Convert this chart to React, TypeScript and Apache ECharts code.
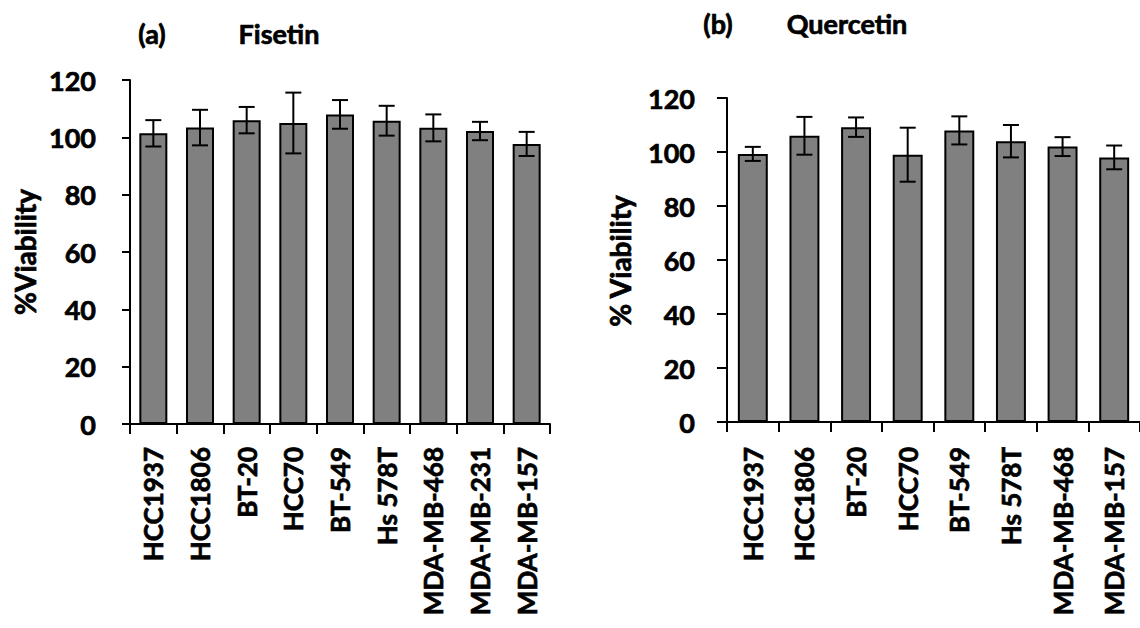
import React, { useEffect, useRef } from "react";
import * as echarts from "echarts";

const fisetinCells = ["HCC1937", "HCC1806", "BT-20", "HCC70", "BT-549", "Hs 578T", "MDA-MB-468", "MDA-MB-231", "MDA-MB-157"];
const fisetinMean = [101.4, 103.4, 106, 105, 108, 105.8, 103.3, 102.2, 97.7];
const fisetinErr = [4.6, 6.2, 4.6, 10.6, 5, 5.2, 4.7, 3.2, 4.2];

const quercetinCells = ["HCC1937", "HCC1806", "BT-20", "HCC70", "BT-549", "Hs 578T", "MDA-MB-468", "MDA-MB-157"];
const quercetinMean = [99.3, 106, 109.2, 99, 108, 104, 102, 98];
const quercetinErr = [2.6, 7, 3.6, 10, 5.2, 6, 3.5, 4.4];

const yTicks = { min: 0, max: 120, interval: 20 };

const FONT = "Lato";
const txt = {
  fontFamily: FONT, fontWeight: "bold" as const, fontSize: 26, color: "#000",
  textBorderColor: "#000", textBorderWidth: 0.7,
};

function errRows(mean: number[], err: number[]) {
  return mean.map((m, i) => [i, m - err[i], m + err[i]]);
}

function errRender(hw: number) {
  return (params: any, api: any) => {
    const x = api.value(0);
    const pLo = api.coord([x, api.value(1)]);
    const pHi = api.coord([x, api.value(2)]);
    const style = { stroke: "#000", lineWidth: 2 };
    return {
      type: "group",
      children: [
        { type: "line", shape: { x1: pHi[0], y1: pHi[1], x2: pLo[0], y2: pLo[1] }, style },
        { type: "line", shape: { x1: pHi[0] - hw, y1: pHi[1], x2: pHi[0] + hw, y2: pHi[1] }, style },
        { type: "line", shape: { x1: pLo[0] - hw, y1: pLo[1], x2: pLo[0] + hw, y2: pLo[1] }, style },
      ],
    };
  };
}

function label(text: string, x: number, y: number, size: number, rotation = 0) {
  return {
    type: "text", x, y, rotation,
    style: {
      text, font: `bold ${size}px ${FONT}`, fill: "#000", stroke: "#000", lineWidth: 0.7,
      textAlign: "center", textVerticalAlign: "middle",
    },
  };
}

export default function App() {
  const ref = useRef<HTMLDivElement>(null);
  useEffect(() => {
    if (!ref.current) return;
    const chart = echarts.init(ref.current, undefined, { renderer: "svg" });
    const axisLine = { show: true, lineStyle: { color: "#000", width: 2 } };
    const mkX = (gridIndex: number, data: string[], margin: number) => ({
      type: "category",
      gridIndex,
      data,
      boundaryGap: true,
      axisLine,
      axisTick: { show: true, length: 10, inside: false, lineStyle: { color: "#000", width: 2 } },
      axisLabel: { ...txt, interval: 0, rotate: 90, margin },
      splitLine: { show: false },
    });
    const mkY = (gridIndex: number, tickLen: number, margin: number) => ({
      type: "value",
      gridIndex,
      ...yTicks,
      axisLine,
      axisTick: { show: true, length: tickLen, lineStyle: { color: "#000", width: 2 } },
      axisLabel: { ...txt, fontSize: 27, margin },
      splitLine: { show: false },
    });
    const barStyle = { color: "#808080", borderColor: "#000", borderWidth: 2 };
    chart.setOption({
      animation: false,
      backgroundColor: "#fff",
      grid: [
        { left: 130, top: 80, width: 420, height: 344 },
        { left: 727, top: 98, width: 421, height: 324 },
      ],
      xAxis: [mkX(0, fisetinCells, 23), mkX(1, quercetinCells, 25)],
      yAxis: [mkY(0, 8, 34), mkY(1, 10, 32)],
      series: [
        { type: "bar", xAxisIndex: 0, yAxisIndex: 0, data: fisetinMean, barWidth: "60%", itemStyle: barStyle },
        {
          type: "custom", xAxisIndex: 0, yAxisIndex: 0, z: 5,
          data: errRows(fisetinMean, fisetinErr), encode: { x: 0, y: [1, 2] },
          renderItem: errRender(8),
        },
        { type: "bar", xAxisIndex: 1, yAxisIndex: 1, data: quercetinMean, barWidth: "58%", itemStyle: barStyle },
        {
          type: "custom", xAxisIndex: 1, yAxisIndex: 1, z: 5,
          data: errRows(quercetinMean, quercetinErr), encode: { x: 0, y: [1, 2] },
          renderItem: errRender(8),
        },
      ],
      graphic: [
        label("(a)", 152, 33, 27),
        label("Fisetin", 279, 33, 27),
        label("(b)", 718, 23, 27),
        label("Quercetin", 847, 23, 27),
        label("%Viability", 25, 252, 28, Math.PI / 2),
        label("% Viability", 620, 261, 28, Math.PI / 2),
      ],
    });
    return () => chart.dispose();
  }, []);
  return <div ref={ref} style={{ position: "absolute", left: 0, top: 0, width: 1140, height: 628 }} />;
}
